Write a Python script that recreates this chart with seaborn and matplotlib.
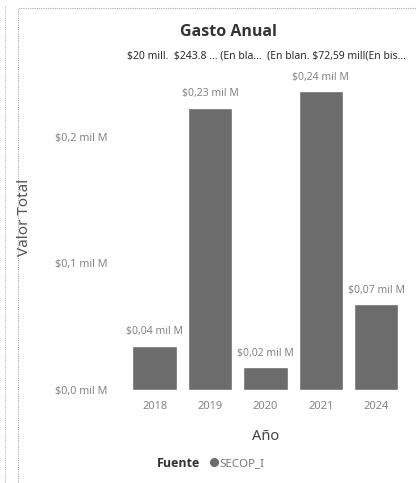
import matplotlib
matplotlib.use("Agg")
import matplotlib.pyplot as plt
import seaborn as sns
import pandas as pd
from matplotlib.lines import Line2D

# datos (en miles de millones)
anios = ["2018", "2019", "2020", "2021", "2024"]
valores = [0.035, 0.223, 0.018, 0.236, 0.068]
etiquetas = ["$0,04 mil M", "$0,23 mil M", "$0,02 mil M", "$0,24 mil M", "$0,07 mil M"]
ticks_y = [0.0, 0.1, 0.2]
ticks_y_txt = ["$0,0 mil M", "$0,1 mil M", "$0,2 mil M"]
fila_superior = "$20 mill.  $243.8 ... (En bla...  (En blan. $72,59 mill(En bis..."

df = pd.DataFrame({"Año": anios, "Valor Total": valores})

sns.set_style("white")
plt.rcParams["font.family"] = ["Noto Sans", "DejaVu Sans"]

fig = plt.figure(figsize=(4.16, 4.83), dpi=100)
ax = fig.add_axes([0.305, 0.1925, 0.666, 0.645])

sns.barplot(data=df, x="Año", y="Valor Total", color="#6c6c6c",
            saturation=1, width=0.8, ax=ax)

ax.bar_label(ax.containers[0], labels=etiquetas, padding=6,
             fontsize=7.5, color="#858585")

ax.set_ylim(0, 0.246)
ax.set_yticks(ticks_y)
ax.set_yticklabels(ticks_y_txt, fontsize=7.8, color="#858585")
ax.tick_params(axis="y", length=0, pad=14)
ax.tick_params(axis="x", length=0, pad=8, labelsize=8, labelcolor="#858585")
for s in ax.spines.values():
    s.set_visible(False)

ax.set_xlabel("Año", fontsize=10.5, color="#444444", labelpad=12)
ax.set_ylabel("")
fig.text(0.06, 0.549, "Valor Total", rotation=90, fontsize=11,
         color="#555555", ha="center", va="center")

fig.text(0.548, 0.934, "Gasto Anual", fontsize=11.5, fontweight="bold",
         family="Open Sans", color="#333333", ha="center", va="center")
fig.text(0.305, 0.884, fila_superior, fontsize=7.5, color="#2a2a2a",
         ha="left", va="center")

# leyenda
fig.text(0.481, 0.041, "Fuente", fontsize=9, fontweight="bold",
         family="Open Sans", color="#333333", ha="right", va="center")
leg = fig.legend(handles=[Line2D([0], [0], marker="o", ls="", color="#6c6c6c",
                                 markersize=5.5, label="SECOP_I")],
                 loc="center left", bbox_to_anchor=(0.49, 0.041), frameon=False,
                 fontsize=8.3, handletextpad=0.05, borderpad=0, handlelength=0.8)
for t in leg.get_texts():
    t.set_color("#777777")

# bordes punteados del panel
fig.add_artist(Line2D([0.043, 0.043, 1.0], [0.0, 0.983, 0.983],
                      transform=fig.transFigure, color="#aaaaaa",
                      lw=0.8, ls=(0, (1, 1))))
fig.add_artist(Line2D([0.012, 0.012], [0.0, 0.99], transform=fig.transFigure,
                      color="#bbbbbb", lw=0.8, ls=(0, (1, 1))))

fig.savefig("out.png", dpi=100)
